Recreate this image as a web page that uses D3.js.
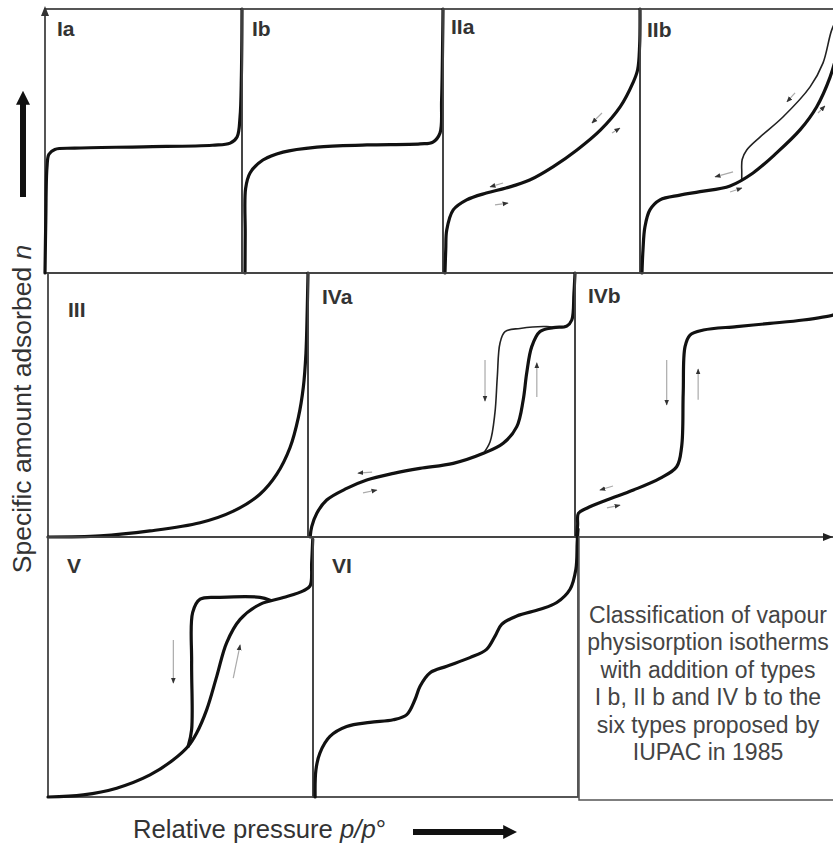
<!DOCTYPE html>
<html>
<head>
<meta charset="utf-8">
<script src="https://d3js.org/d3.v7.min.js"></script>
<style>
  body { margin:0; background:#fff; }
  text { font-family: "Liberation Sans", Arial, sans-serif; }
</style>
</head>
<body>
<script>
// isotherm curves, [p/p°, n] with both axes scaled 0..1 inside each panel
var curveIa = [[0,0],[0.004,0.2],[0.01,0.4],[0.02,0.45],[0.05,0.468],[0.15,0.473],[0.5,0.478],[0.85,0.484],[0.94,0.492],[0.975,0.515],[0.99,0.59],[0.997,0.75],[1,1]];
var curveIb = [[0.015,0],[0.016,0.15],[0.018,0.32],[0.04,0.379],[0.104,0.428],[0.204,0.458],[0.373,0.477],[0.622,0.485],[0.886,0.489],[0.95,0.496],[0.985,0.53],[0.993,0.655],[1,1]];
var curveIIa = [[0.01,0],[0.014,0.09],[0.019,0.163],[0.052,0.239],[0.12,0.277],[0.22,0.303],[0.32,0.322],[0.44,0.352],[0.56,0.403],[0.68,0.466],[0.80,0.542],[0.90,0.63],[0.964,0.72],[0.988,0.77],[0.998,0.86],[1,1]];
var curveIIb = [[0.01,0],[0.015,0.087],[0.025,0.175],[0.05,0.239],[0.101,0.277],[0.202,0.295],[0.303,0.308],[0.455,0.33],[0.571,0.379],[0.69,0.455],[0.808,0.542],[0.892,0.629],[0.96,0.742],[1,0.845]];
var curveIIbDes = [[1,0.97],[0.968,0.92],[0.924,0.795],[0.859,0.705],[0.722,0.591],[0.606,0.515],[0.539,0.466],[0.516,0.43],[0.514,0.38],[0.514,0.352]];
var curveIII = [[0,0],[0.2,0.004],[0.392,0.023],[0.585,0.054],[0.713,0.098],[0.815,0.162],[0.88,0.238],[0.931,0.339],[0.963,0.453],[0.982,0.567],[0.992,0.694],[0.997,0.858],[1,1]];
var curveIVa = [[0.008,0],[0.014,0.039],[0.033,0.09],[0.07,0.14],[0.145,0.184],[0.22,0.216],[0.32,0.241],[0.419,0.26],[0.544,0.279],[0.657,0.317],[0.731,0.355],[0.782,0.418],[0.806,0.519],[0.819,0.62],[0.838,0.721],[0.869,0.778],[0.919,0.793],[0.969,0.799],[0.988,0.822],[0.996,0.923],[1,1]];
var curveIVaDes = [[0.919,0.793],[0.894,0.797],[0.794,0.79],[0.738,0.778],[0.719,0.734],[0.709,0.607],[0.7,0.469],[0.682,0.361],[0.657,0.317]];
var curveIVb = [[0.006,0],[0.01,0.045],[0.013,0.09],[0.045,0.109],[0.121,0.14],[0.223,0.178],[0.324,0.222],[0.388,0.266],[0.407,0.342],[0.413,0.544],[0.42,0.721],[0.439,0.765],[0.49,0.784],[0.617,0.797],[0.744,0.809],[0.871,0.822],[0.985,0.841],[1,0.848]];
var curveV = [[0,0],[0.133,0.008],[0.259,0.034],[0.385,0.085],[0.473,0.143],[0.529,0.195],[0.561,0.246],[0.599,0.336],[0.637,0.465],[0.674,0.593],[0.725,0.683],[0.8,0.741],[0.888,0.767],[0.963,0.793],[0.989,0.812],[0.995,0.902],[0.999,0.992]];
var curveVDes = [[0.838,0.757],[0.8,0.768],[0.649,0.768],[0.574,0.761],[0.546,0.71],[0.542,0.517],[0.542,0.259],[0.529,0.195]];
var curveVI = [[0.008,0],[0.011,0.104],[0.026,0.169],[0.064,0.233],[0.127,0.271],[0.215,0.287],[0.303,0.297],[0.354,0.317],[0.385,0.375],[0.404,0.426],[0.442,0.478],[0.505,0.503],[0.592,0.536],[0.655,0.568],[0.687,0.619],[0.712,0.664],[0.769,0.696],[0.857,0.722],[0.92,0.748],[0.97,0.799],[0.992,0.876],[0.997,0.979],[1,1.03]];

// little direction arrows, [p tail, n tail, p head, n head]
var arrowsIIa = [[0.305,0.341,0.239,0.326],[0.264,0.258,0.33,0.265],[0.807,0.606,0.756,0.568],[0.858,0.53,0.898,0.549]];
var arrowsIIb = [[0.47,0.383,0.379,0.364],[0.455,0.307,0.515,0.322],[0.783,0.682,0.742,0.648],[0.899,0.606,0.934,0.633]];
var arrowsIVa = [[0.663,0.67,0.663,0.515],[0.857,0.53,0.857,0.66],[0.24,0.246,0.187,0.242],[0.206,0.167,0.258,0.178]];
var arrowsIVb = [[0.35,0.67,0.35,0.5],[0.47,0.52,0.47,0.636],[0.145,0.193,0.095,0.178],[0.122,0.11,0.172,0.121]];
var arrowsV = [[0.473,0.604,0.473,0.438],[0.699,0.457,0.725,0.585]];

var panelNames = ["Ia","Ib","IIa","IIb","III","IVa","IVb","V","VI"];
var noteLines = ["Classification of vapour", "physisorption isotherms", "with addition of types",
                 "I b, II b and IV b to the", "six types proposed by", "IUPAC in 1985"];
var yTitle = "Specific amount adsorbed ";
var xTitle = "Relative pressure ";

var width = 833, height = 845;
var svg = d3.select("body").append("svg")
  .attr("width", width).attr("height", height);

var defs = svg.append("defs");
defs.append("marker").attr("id","tip")
  .attr("viewBox","0 0 10 10").attr("refX",9).attr("refY",5)
  .attr("markerUnits","userSpaceOnUse").attr("markerWidth",6).attr("markerHeight",6)
  .attr("orient","auto")
  .append("path").attr("d","M0,1L10,5L0,9Z").attr("fill","#333");
defs.append("marker").attr("id","bigtip")
  .attr("viewBox","0 0 10 10").attr("refX",2).attr("refY",5)
  .attr("markerUnits","userSpaceOnUse").attr("markerWidth",14).attr("markerHeight",14)
  .attr("orient","auto")
  .append("path").attr("d","M0,0L10,5L0,10Z").attr("fill","#111");

// panel boxes (pixel layout)
var layout = [
  {x0:45,  x1:242, y0:9,   y1:273, lx:12, ly:27, curves:[curveIa]},
  {x0:242, x1:443, y0:9,   y1:273, lx:10, ly:27, curves:[curveIb]},
  {x0:443, x1:640, y0:9,   y1:273, lx:8,  ly:25, curves:[curveIIa], arrows:arrowsIIa},
  {x0:640, x1:838, y0:9,   y1:273, lx:7,  ly:28, curves:[curveIIb], thin:[curveIIbDes], arrows:arrowsIIb},
  {x0:48,  x1:308, y0:273, y1:537, lx:20, ly:44, curves:[curveIII]},
  {x0:308, x1:575, y0:273, y1:537, lx:14, ly:31, curves:[curveIVa], thin:[curveIVaDes], arrows:arrowsIVa},
  {x0:575, x1:837, y0:273, y1:537, lx:13, ly:30, curves:[curveIVb], arrows:arrowsIVb},
  {x0:48,  x1:313, y0:537, y1:797, lx:19, ly:36, curves:[curveV, curveVDes], arrows:arrowsV},
  {x0:313, x1:578, y0:537, y1:797, lx:19, ly:36, curves:[curveVI]}
];

layout.forEach(function(L, i) {
  var x = d3.scaleLinear().domain([0,1]).range([L.x0, L.x1]);
  var y = d3.scaleLinear().domain([0,1]).range([L.y1, L.y0]);
  var g = svg.append("g");

  g.append("rect")
    .attr("x", L.x0).attr("y", L.y0)
    .attr("width", L.x1 - L.x0).attr("height", L.y1 - L.y0)
    .attr("fill", "none").attr("stroke", "#444").attr("stroke-width", 1.8);

  var line = d3.line()
    .x(function(d) { return x(d[0]); })
    .y(function(d) { return y(d[1]); })
    .curve(d3.curveCatmullRom.alpha(0.5));

  (L.arrows || []).forEach(function(a) {
    g.append("line")
      .attr("x1", x(a[0])).attr("y1", y(a[1]))
      .attr("x2", x(a[2])).attr("y2", y(a[3]))
      .attr("stroke", "#aaa").attr("stroke-width", 1.2)
      .attr("marker-end", "url(#tip)");
  });

  (L.thin || []).forEach(function(c) {
    g.append("path").attr("d", line(c))
      .attr("fill","none").attr("stroke","#222").attr("stroke-width",1.6);
  });
  L.curves.forEach(function(c) {
    g.append("path").attr("d", line(c))
      .attr("fill","none").attr("stroke","#111").attr("stroke-width",3.2)
      .attr("stroke-linecap","round");
  });

  g.append("text")
    .attr("x", L.x0 + L.lx).attr("y", L.y0 + L.ly)
    .attr("font-size", 21).attr("font-weight", "bold").attr("fill", "#333")
    .text(panelNames[i]);
});

// note box
svg.append("rect")
  .attr("x", 579).attr("y", 537).attr("width", 270).attr("height", 263)
  .attr("fill","none").attr("stroke","#555").attr("stroke-width",1.5);
svg.append("g").selectAll("text").data(noteLines).enter().append("text")
  .attr("x", 708).attr("y", function(d, i) { return 623 + i * 27.4; })
  .attr("text-anchor","middle").attr("font-size", 23).attr("fill","#444")
  .text(function(d) { return d; });

// small axis tips
svg.append("path").attr("d","M41,16L45,6L49,16Z").attr("fill","#333");
svg.append("path").attr("d","M823,533L833,537L823,541Z").attr("fill","#222");

// axis titles
var yt = svg.append("text")
  .attr("transform","translate(31,409) rotate(-90)")
  .attr("text-anchor","middle").attr("font-size", 26.5).attr("fill","#333");
yt.append("tspan").text(yTitle);
yt.append("tspan").attr("font-style","italic").text("n");

var xt = svg.append("text")
  .attr("x", 133).attr("y", 838).attr("font-size", 25.7).attr("fill","#333");
xt.append("tspan").text(xTitle);
xt.append("tspan").attr("font-style","italic").text("p/p");
xt.append("tspan").text("°");

svg.append("line").attr("x1",23).attr("y1",197).attr("x2",23).attr("y2",102)
  .attr("stroke","#111").attr("stroke-width",6).attr("marker-end","url(#bigtip)");
svg.append("line").attr("x1",413).attr("y1",832).attr("x2",506).attr("y2",832)
  .attr("stroke","#111").attr("stroke-width",6).attr("marker-end","url(#bigtip)");
</script>
</body>
</html>
